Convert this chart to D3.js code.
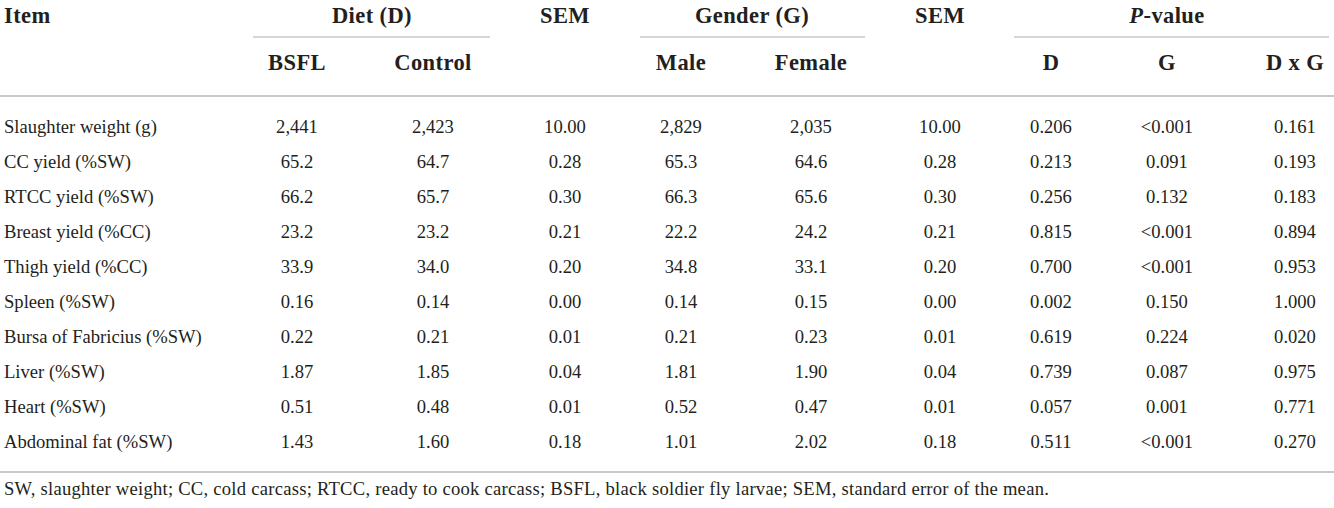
<!DOCTYPE html>
<html>
<head>
<meta charset="utf-8">
<script src="https://cdn.jsdelivr.net/npm/d3@7/dist/d3.min.js"></script>
<style>
  html, body { margin: 0; padding: 0; background: #fff; }
  svg { display: block; }
  text { font-family: "Liberation Serif", "DejaVu Serif", serif; fill: #231f20; }
</style>
</head>
<body>
<svg id="tbl" width="1334" height="508"></svg>
<script>
// ---- data ----
const items = [
  "Slaughter weight (g)", "CC yield (%SW)", "RTCC yield (%SW)", "Breast yield (%CC)",
  "Thigh yield (%CC)", "Spleen (%SW)", "Bursa of Fabricius (%SW)", "Liver (%SW)",
  "Heart (%SW)", "Abdominal fat (%SW)"
];
const bsfl    = ["2,441", "65.2", "66.2", "23.2", "33.9", "0.16", "0.22", "1.87", "0.51", "1.43"];
const control = ["2,423", "64.7", "65.7", "23.2", "34.0", "0.14", "0.21", "1.85", "0.48", "1.60"];
const semDiet = ["10.00", "0.28", "0.30", "0.21", "0.20", "0.00", "0.01", "0.04", "0.01", "0.18"];
const male    = ["2,829", "65.3", "66.3", "22.2", "34.8", "0.14", "0.21", "1.81", "0.52", "1.01"];
const female  = ["2,035", "64.6", "65.6", "24.2", "33.1", "0.15", "0.23", "1.90", "0.47", "2.02"];
const semGen  = ["10.00", "0.28", "0.30", "0.21", "0.20", "0.00", "0.01", "0.04", "0.01", "0.18"];
const pD      = ["0.206", "0.213", "0.256", "0.815", "0.700", "0.002", "0.619", "0.739", "0.057", "0.511"];
const pG      = ["<0.001", "0.091", "0.132", "<0.001", "<0.001", "0.150", "0.224", "0.087", "0.001", "<0.001"];
const pDG     = ["0.161", "0.193", "0.183", "0.894", "0.953", "1.000", "0.020", "0.975", "0.771", "0.270"];

const columnKeys   = ["bsfl", "control", "semDiet", "male", "female", "semGen", "pD", "pG", "pDG"];
const subHeaders   = ["BSFL", "Control", "", "Male", "Female", "", "D", "G", "D x G"];
const footnote = "SW, slaughter weight; CC, cold carcass; RTCC, ready to cook carcass; BSFL, black soldier fly larvae; SEM, standard error of the mean.";

// ---- layout ----
const columnValues = [bsfl, control, semDiet, male, female, semGen, pD, pG, pDG];
const svg = d3.select("#tbl");
const W = 1334;

const x = d3.scaleOrdinal()
  .domain(columnKeys)
  .range([297, 433, 565, 681, 811, 940, 1051, 1167, 1295]);

const y = d3.scalePoint()
  .domain(items)
  .range([126, 441]);

const bodySize = 18.6;
const headSize = 22.5;
const headSpacing = 0.4;
const lineColor = "#c9c9c9";

function headText(sel) {
  return sel.attr("font-size", headSize).attr("font-weight", "bold")
    .attr("letter-spacing", headSpacing);
}

// header row 1
const groupHeaders = [
  { label: "Diet (D)", cx: 372, x0: 253, x1: 490 },
  { label: "SEM", cx: 565 },
  { label: "Gender (G)", cx: 752, x0: 640, x1: 865 },
  { label: "SEM", cx: 940 },
  { label: null, cx: 1167, x0: 1014, x1: 1329 }
];

svg.append("text")
  .attr("x", 4).attr("y", 15).attr("dy", "0.36em")
  .call(headText)
  .text("Item");

const gh = svg.append("g");
groupHeaders.forEach(h => {
  if (h.label) {
    gh.append("text")
      .attr("x", h.cx).attr("y", 15).attr("dy", "0.36em")
      .attr("text-anchor", "middle")
      .call(headText)
      .text(h.label);
  }
  if (h.x0 !== undefined) {
    gh.append("line")
      .attr("x1", h.x0).attr("x2", h.x1).attr("y1", 37).attr("y2", 37)
      .attr("stroke", lineColor).attr("stroke-width", 1.5);
  }
});

// P-value header with italic P
const pv = gh.append("text")
  .attr("x", 1167).attr("y", 15).attr("dy", "0.36em")
  .attr("text-anchor", "middle")
  .call(headText);
pv.append("tspan").attr("font-style", "italic").text("P");
pv.append("tspan").text("-value");

// header row 2
svg.append("g").selectAll("text")
  .data(columnKeys.map((k, i) => ({ k, label: subHeaders[i] })).filter(d => d.label))
  .join("text")
  .attr("x", d => x(d.k)).attr("y", 62).attr("dy", "0.36em")
  .attr("text-anchor", "middle")
  .call(headText)
  .text(d => d.label);

// header bottom rule
svg.append("line")
  .attr("x1", 0).attr("x2", W).attr("y1", 96).attr("y2", 96)
  .attr("stroke", lineColor).attr("stroke-width", 2);

// body
const rows = svg.append("g").selectAll("g")
  .data(items.map((item, r) => ({ item, r })))
  .join("g")
  .attr("transform", d => `translate(0,${y(d.item)})`);

rows.append("text")
  .attr("x", 4).attr("dy", "0.36em")
  .attr("font-size", bodySize)
  .text(d => d.item);

rows.selectAll("text.val")
  .data(d => columnKeys.map((k, c) => ({ k, v: columnValues[c][d.r] })))
  .join("text")
  .attr("class", "val")
  .attr("x", d => x(d.k)).attr("dy", "0.36em")
  .attr("text-anchor", "middle")
  .attr("font-size", bodySize)
  .text(d => d.v);

// bottom rule
svg.append("line")
  .attr("x1", 0).attr("x2", W).attr("y1", 472).attr("y2", 472)
  .attr("stroke", lineColor).attr("stroke-width", 2);

// footnote
svg.append("text")
  .attr("x", 4).attr("y", 488).attr("dy", "0.36em")
  .attr("font-size", 18.6)
  .attr("letter-spacing", 0.25)
  .text(footnote);
</script>
</body>
</html>
